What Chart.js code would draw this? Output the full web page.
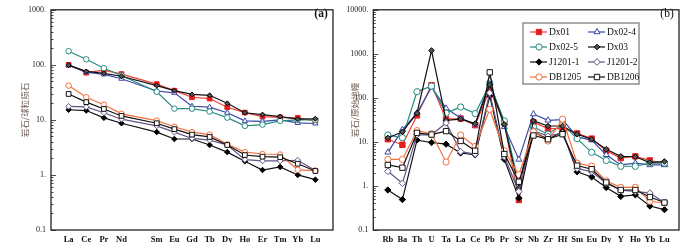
<!DOCTYPE html>
<html>
<head>
<meta charset="utf-8">
<script src="https://cdn.jsdelivr.net/npm/chart.js@4"></script>
<style>
  body { margin: 0; background: #fff; }
  #wrap { position: relative; width: 700px; height: 243px; }
  canvas { position: absolute; top: 0; }
</style>
</head>
<body>
<div id="wrap">
  <canvas id="chartA" width="338" height="243" style="left:0"></canvas>
  <canvas id="chartB" width="362" height="243" style="left:338px"></canvas>
</div>
<script>
// (a) chondrite-normalised REE, Pm left empty
const reeLabels = ['La', 'Ce', 'Pr', 'Nd', '', 'Sm', 'Eu', 'Gd', 'Tb', 'Dy', 'Ho', 'Er', 'Tm', 'Yb', 'Lu'];
const reeDx01    = [100, 72, 80, 68, null, 44.6, 34, 25.8, 24.4, 17, 13.6, 11.5, 11.1, 10.9, 9.6];
const reeDx02_4  = [99, 74, 67, 56, null, 33.5, 31, 17.7, 17, 13.5, 9.6, 9.4, 10, 8.8, 8.6];
const reeDx02_5  = [177, 126, 87, 64, null, 32.5, 16, 16, 14.2, 11, 7.8, 8.2, 9.6, 10, 10];
const reeDx03    = [99, 76, 70, 62, null, 42, 34, 29, 28, 20, 13.5, 12.5, 11.5, 10.3, 10.5];
const reeJ1201_1 = [15.3, 14.8, 10.9, 8.7, null, 6, 4.5, 4.5, 3.5, 2.6, 1.77, 1.23, 1.4, 1.0, 0.82];
const reeJ1201_2 = [17.6, 17.2, 13.5, 10.3, null, 7.8, 6, 4.6, 4.3, 3.5, 1.9, 1.8, 1.8, 1.85, 1.2];
const reeDB1205  = [42, 25.8, 18.9, 12.9, null, 9.7, 7.5, 6, 5.4, 3.6, 2.6, 2.4, 2.35, 1.24, 1.2];
const reeDB1206  = [29.6, 21, 15.8, 11.8, null, 8.7, 6.8, 5.4, 4.9, 3.5, 2.3, 2.15, 2.1, 1.6, 1.18];

// (b) primitive-mantle-normalised trace elements
const traceLabels = ['Rb', 'Ba', 'Th', 'U', 'Ta', 'La', 'Ce', 'Pb', 'Pr', 'Sr', 'Nb', 'Zr', 'Hf', 'Sm', 'Eu', 'Dy', 'Y', 'Ho', 'Yb', 'Lu'];
const trDx01    = [11.5, 8.6, 40, 195, 33, 34, 24, 150, 27, 0.48, 28, 20, 20, 15.6, 11.9, 6.3, 4.3, 4.7, 3.8, 3.2];
const trDx02_4  = [5.8, 19, 45, 175, 58, 35, 25, 250, 22, 4, 43, 31, 32, 13, 11, 5.1, 3.0, 3.3, 3.0, 3.0];
const trDx02_5  = [14.3, 12.5, 138, 185, 45, 62, 44, 205, 30, 1.1, 22, 15, 25, 11.9, 5.8, 3.8, 2.8, 2.8, 3.3, 3.3];
const trDx03    = [12.3, 17, 45, 1190, 31, 33, 26, 200, 25, 0.9, 30, 23, 23, 15, 11.5, 6.8, 4.7, 4.6, 3.4, 3.6];
const trJ1201_1 = [0.81, 0.49, 11, 9.7, 8.9, 5.6, 5.1, 110, 4, 0.53, 17, 11.5, 17, 2.1, 1.6, 0.92, 0.58, 0.63, 0.35, 0.29];
const trJ1201_2 = [2.15, 1.15, 14.5, 14.5, 27, 6, 5.3, 130, 4.6, 0.75, 18, 13.5, 16, 2.5, 2.1, 1.15, 0.8, 0.75, 0.69, 0.42];
const trDB1205  = [4, 4, 18, 15.3, 3.5, 14.3, 7.9, 55, 6.3, 1.8, 17, 10.5, 33, 3.3, 2.8, 1.3, 0.93, 0.93, 0.45, 0.41];
const trDB1206  = [3, 2.6, 16, 14.7, 17.6, 10.5, 6.3, 380, 5.3, 1.25, 14, 11.5, 15, 2.9, 2.4, 1.2, 0.81, 0.81, 0.56, 0.42];

const sampleNames = ['Dx01', 'Dx02-4', 'Dx02-5', 'Dx03', 'J1201-1', 'J1201-2', 'DB1205', 'DB1206'];

// line colour, marker style, marker fill
const styles = [
    { line: 'rgb(236,64,52)', style: 'rect', fill: 'rgb(232,30,30)', border: 'rgb(232,30,30)', size: 1.15 },
    { line: 'rgb(58,72,165)', style: 'triangle', fill: '#fff', border: 'rgb(58,72,165)', size: 1.05 },
    { line: 'rgb(38,140,128)', style: 'circle', fill: '#fff', border: 'rgb(38,140,128)', size: 0.95 },
    { line: '#111', style: 'rectRot', fill: '#555', border: '#000', size: 0.85 },
    { line: '#111', style: 'rectRot', fill: '#000', border: '#000', size: 0.95 },
    { line: 'rgb(100,82,135)', style: 'rectRot', fill: '#fff', border: 'rgb(100,82,135)', size: 1.0 },
    { line: 'rgb(242,112,62)', style: 'circle', fill: '#fff', border: 'rgb(242,112,62)', size: 0.95 },
    { line: '#111', style: 'rect', fill: '#fff', border: '#111', size: 1.15 }
];

const serif = 'Liberation Serif';

function makeDatasets(seriesList, radius) {
    return seriesList.map((vals, i) => ({
        label: sampleNames[i],
        data: vals.map((v, k) => ({ x: k + 1, y: v })).filter(p => p.y !== null),
        borderColor: styles[i].line,
        borderWidth: 1.2,
        pointStyle: styles[i].style,
        pointRadius: radius * styles[i].size,
        pointBackgroundColor: styles[i].fill,
        pointBorderColor: styles[i].border,
        pointBorderWidth: 1,
        order: -i
    }));
}

// frame, inward log ticks, y title, panel tag, optional legend
function framePlugin(cfg) {
    return {
        id: 'frame' + cfg.tag,
        afterDraw(chart) {
            const ctx = chart.ctx;
            const a = chart.chartArea;
            const ys = chart.scales.y;
            ctx.save();
            ctx.strokeStyle = '#222';
            ctx.lineWidth = 1.3;
            ctx.strokeRect(a.left, a.top, a.right - a.left, a.bottom - a.top);
            ctx.lineWidth = 0.8;
            for (let d = ys.min; d < ys.max * 1.01; d *= 10) {
                for (let k = 1; k <= 9; k++) {
                    const v = d * k;
                    if (v > ys.max * 1.001) break;
                    const y = Math.round(ys.getPixelForValue(v)) + 0.5;
                    const len = k === 1 ? 5 : 2.5;
                    ctx.beginPath();
                    ctx.moveTo(a.left, y);
                    ctx.lineTo(a.left + len, y);
                    ctx.stroke();
                }
            }
            // y title
            ctx.translate(cfg.titleX, 110);
            ctx.rotate(-Math.PI / 2);
            ctx.fillStyle = '#6e5e55';
            ctx.font = '8.5px "Noto Sans CJK SC"';
            ctx.textAlign = 'center';
            ctx.textBaseline = 'middle';
            ctx.fillText(cfg.title, 0, 0);
            ctx.restore();

            ctx.save();
            ctx.fillStyle = '#111';
            ctx.font = cfg.tagFont;
            ctx.textAlign = 'center';
            ctx.textBaseline = 'middle';
            ctx.fillText(cfg.tag, a.right - 12, 14);
            ctx.restore();

            if (cfg.legend) {
                const L = cfg.legend;
                ctx.save();
                ctx.strokeStyle = '#888';
                ctx.lineWidth = 1.4;
                ctx.strokeRect(L.x, L.y, L.w, L.h);
                ctx.font = '9.5px "' + serif + '"';
                ctx.textBaseline = 'middle';
                chart.data.datasets.forEach((ds, i) => {
                    const col = i % 2, row = Math.floor(i / 2);
                    const lx = L.x + 7 + col * 58;
                    const ly = L.y + 9 + row * 15;
                    ctx.strokeStyle = ds.borderColor;
                    ctx.lineWidth = 1.2;
                    ctx.beginPath();
                    ctx.moveTo(lx, ly);
                    ctx.lineTo(lx + 17, ly);
                    ctx.stroke();
                    ctx.fillStyle = ds.pointBackgroundColor;
                    ctx.strokeStyle = ds.pointBorderColor;
                    ctx.lineWidth = 1;
                    Chart.helpers.drawPoint(ctx, { pointStyle: ds.pointStyle, radius: ds.pointRadius, rotation: 0, borderWidth: 1 }, lx + 9, ly);
                    ctx.fillStyle = '#111';
                    ctx.fillText(ds.label, lx + 19, ly + 0.5);
                });
                ctx.restore();
            }
        }
    };
}

function makeChart(id, cfg) {
    return new Chart(document.getElementById(id), {
        type: 'line',
        data: { datasets: makeDatasets(cfg.series, cfg.radius) },
        options: {
            responsive: false,
            animation: false,
            layout: { padding: { left: 0, right: cfg.padRight, top: 4, bottom: 0 } },
            plugins: { legend: { display: false }, tooltip: { enabled: false } },
            scales: {
                x: {
                    type: 'linear',
                    min: 0,
                    max: cfg.labels.length + 1,
                    grid: { display: false, drawTicks: false },
                    border: { display: false },
                    afterFit(s) { s.height = 13; },
                    ticks: {
                        stepSize: 1,
                        autoSkip: false,
                        maxRotation: 0,
                        padding: 5,
                        color: '#111',
                        font: { family: serif, size: 8.5, weight: 'bold' },
                        callback: v => cfg.labels[v - 1] || ''
                    }
                },
                y: {
                    type: 'logarithmic',
                    min: 0.1,
                    max: cfg.yMax,
                    grid: { display: false, drawTicks: false },
                    border: { display: false },
                    afterFit(s) { s.width = cfg.yWidth; },
                    afterBuildTicks(s) {
                        const t = [];
                        for (let v = 0.1; v <= cfg.yMax * 1.001; v *= 10) t.push({ value: Math.round(v * 10) / 10 });
                        s.ticks = t;
                    },
                    ticks: {
                        padding: 5,
                        color: '#222',
                        font: { family: serif, size: 8 },
                        callback: v => v < 1 ? '0.1' : v + '.'
                    }
                }
            }
        },
        plugins: [framePlugin(cfg)]
    });
}

makeChart('chartA', {
    tag: '(a)',
    tagFont: 'bold 11.5px "' + serif + '"',
    title: '岩石/球粒陨石',
    titleX: 25,
    labels: reeLabels,
    series: [reeDx01, reeDx02_4, reeDx02_5, reeDx03, reeJ1201_1, reeJ1201_2, reeDB1205, reeDB1206],
    radius: 2.9,
    yMax: 1000,
    yWidth: 51,
    padRight: 3.5
});

makeChart('chartB', {
    tag: '(b)',
    tagFont: '11.5px "' + serif + '"',
    title: '岩石/原始地幔',
    titleX: 17,
    labels: traceLabels,
    series: [trDx01, trDx02_4, trDx02_5, trDx03, trJ1201_1, trJ1201_2, trDB1205, trDB1206],
    radius: 3.3,
    yMax: 10000,
    yWidth: 35.3,
    padRight: 21,
    legend: { x: 185, y: 23, w: 116, h: 61 }
});
</script>
</body>
</html>
